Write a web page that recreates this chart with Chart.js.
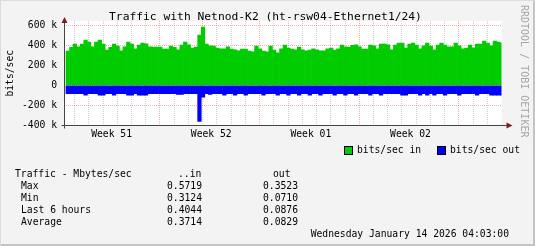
<!DOCTYPE html>
<html>
<head>
<meta charset="utf-8">
<script src="https://cdn.jsdelivr.net/npm/chart.js@4.4.1/dist/chart.umd.min.js"></script>
<style>
  body { margin: 0; background: #f3f3f3; }
  #wrap { position: relative; width: 535px; height: 246px; overflow: hidden;
          font-family: "DejaVu Sans Mono", monospace; font-size: 9.7px; color: #000; }
  #wrap canvas { position: absolute; left: 0; top: 0; }
  .t { position: absolute; white-space: pre; line-height: 12px; }
  .box { position: absolute; width: 7px; height: 7px; border: 1px solid #000; }
  .frame { position: absolute; left: 0; top: 0; right: 0; bottom: 0; pointer-events: none;
           box-shadow: inset 1px 1px 0 #dcdcdc, inset -2px -2px 0 #c4c4c4; }
  #mark { position: absolute; left: 519px; top: 5px; writing-mode: vertical-rl;
          font-size: 10px; line-height: 11px; color: #a6a6a6; white-space: pre; }
</style>
</head>
<body>
<div id="wrap">
  <canvas id="chart" width="535" height="246"></canvas>
  <div class="t" style="left:0;width:531px;text-align:center;top:10px;font-size:11.3px;line-height:14px">Traffic with Netnod-K2 (ht-rsw04-Ethernet1/24)</div>
  <div id="mark">RRDTOOL / TOBI OETIKER</div>
  <div class="box" style="left:344px;top:146px;background:#00cc00"></div>
  <div class="t" style="left:357px;top:144px">bits/sec in</div>
  <div class="box" style="left:437px;top:146px;background:#0000ff"></div>
  <div class="t" style="left:450px;top:144px">bits/sec out</div>
  <div id="stats"></div>
  <div class="t" style="right:26px;top:228px">Wednesday January 14 2026 04:03:00</div>
  <div class="frame"></div>
</div>
<script>
// week labels sit mid-week, day 0 = monday of week 51
const weekLabels = ["Week 51", "Week 52", "Week 01", "Week 02"];
const weekLabelDays = [3.6, 10.6, 17.6, 24.6];

// 6 hour bins, values in kbit/s
const firstBinDay = 0.40;
const binDays = 0.25;

const inK = [
  340, 377, 410, 383, 410, 450, 430, 383, 430, 450,
  410, 350, 377, 410, 390, 343, 383, 430, 410, 363,
  400, 420, 413, 383, 380, 380, 380, 360, 360, 390,
  377, 353, 400, 430, 403, 370, 380, 500, 580, 410,
  393, 390, 370, 363, 363, 383, 360, 353, 343, 360,
  360, 340, 333, 390, 363, 340, 333, 390, 350, 323,
  363, 400, 370, 360, 353, 380, 353, 343, 350, 363,
  353, 343, 343, 363, 370, 350, 363, 400, 383, 380,
  397, 403, 383, 360, 360, 400, 393, 363, 410, 410,
  403, 353, 400, 420, 420, 370, 410, 420, 400, 363,
  393, 420, 390, 353, 400, 420, 400, 383, 383, 420,
  393, 363, 370, 400, 373, 410, 410, 440, 420, 393,
  440, 430, 420
];

const outK = [
  -83, -83, -83, -83, -83, -97, -83, -83, -83, -97,
  -97, -83, -83, -97, -83, -83, -83, -97, -97, -83,
  -97, -97, -97, -83, -83, -83, -83, -83, -83, -83,
  -83, -90, -90, -83, -83, -83, -83, -360, -117, -83,
  -90, -83, -83, -83, -97, -83, -83, -97, -83, -83,
  -97, -83, -83, -83, -83, -97, -83, -83, -83, -97,
  -83, -83, -97, -83, -83, -97, -83, -83, -97, -83,
  -83, -97, -83, -83, -83, -97, -83, -83, -97, -83,
  -83, -97, -83, -83, -83, -97, -83, -83, -97, -83,
  -83, -83, -83, -83, -97, -97, -83, -83, -83, -97,
  -83, -97, -83, -97, -83, -83, -97, -83, -83, -83,
  -97, -83, -83, -83, -83, -97, -83, -83, -83, -97,
  -97, -97, -97
];

const statNames = ["Max", "Min", "Last 6 hours", "Average"];
const statIn = ["0.5719", "0.3124", "0.4044", "0.3714"];
const statOut = ["0.3523", "0.0710", "0.0876", "0.0829"];

const mono = "'DejaVu Sans Mono', monospace";

// stats block under the graph
const stats = document.getElementById("stats");
let html = '<div class="t" style="left:15px;top:168px">Traffic - Mbytes/sec</div>' +
  '<div class="t" style="left:178px;top:168px">..in</div>' +
  '<div class="t" style="left:273px;top:168px">out</div>';
statNames.forEach((name, i) => {
  const top = 180 + i * 12;
  html += `<div class="t" style="left:21px;top:${top}px">${name}</div>`;
  html += `<div class="t" style="left:167px;top:${top}px">${statIn[i]}</div>`;
  html += `<div class="t" style="left:263px;top:${top}px">${statOut[i]}</div>`;
});
stats.innerHTML = html;

const binX = i => firstBinDay + (i + 0.5) * binDays;

// ticks for the x axis: one gridline per day plus the week label positions
const xTicks = [];
for (let d = 1; d <= 30; d++) xTicks.push(d);
weekLabelDays.forEach(d => xTicks.push(d));
xTicks.sort((a, b) => a - b);

// white plot background
const plotBg = {
  id: "plotBg",
  beforeDraw(chart) {
    const a = chart.chartArea;
    chart.ctx.save();
    chart.ctx.fillStyle = "#ffffff";
    chart.ctx.fillRect(a.left, a.top, a.right - a.left, a.bottom - a.top);
    chart.ctx.restore();
  }
};

// rrdtool style axis extensions + arrows
const arrows = {
  id: "arrows",
  afterDraw(chart) {
    const a = chart.chartArea;
    const ctx = chart.ctx;
    const y0 = Math.round(a.bottom) - 0.5;
    const x0 = Math.round(a.left) + 0.5;
    ctx.save();
    ctx.strokeStyle = "#444444";
    ctx.lineWidth = 1;
    ctx.beginPath();
    ctx.moveTo(x0 - 3, y0); ctx.lineTo(a.right + 6, y0);
    ctx.moveTo(x0, y0 + 3); ctx.lineTo(x0, a.top - 2);
    ctx.stroke();
    ctx.fillStyle = "#7f1d1d";
    ctx.beginPath();
    ctx.moveTo(a.right + 5, y0 - 3); ctx.lineTo(a.right + 11, y0); ctx.lineTo(a.right + 5, y0 + 3);
    ctx.closePath(); ctx.fill();
    ctx.beginPath();
    ctx.moveTo(x0 - 3, a.top + 2); ctx.lineTo(x0, a.top - 4); ctx.lineTo(x0 + 3, a.top + 2);
    ctx.closePath(); ctx.fill();
    ctx.restore();
  }
};

const pink = "rgba(255, 0, 0, 0.33)";
const gray = "rgba(170, 170, 170, 0.55)";

new Chart(document.getElementById("chart"), {
  type: "bar",
  data: {
    datasets: [
      {
        label: "bits/sec in",
        data: inK.map((v, i) => ({ x: binX(i), y: v })),
        backgroundColor: "#00cc00",
        borderWidth: 0,
        grouped: false,
        barPercentage: 1,
        categoryPercentage: 1
      },
      {
        label: "bits/sec out",
        data: outK.map((v, i) => ({ x: binX(i), y: v })),
        backgroundColor: "#0000ff",
        borderWidth: 0,
        grouped: false,
        barPercentage: 1,
        categoryPercentage: 1
      }
    ]
  },
  options: {
    responsive: false,
    animation: false,
    devicePixelRatio: 1,
    layout: { padding: { left: 0, right: 33.5, top: 21, bottom: 100.5 } },
    plugins: {
      legend: { display: false },
      tooltip: { enabled: false },
      title: { display: false }
    },
    scales: {
      x: {
        type: "linear",
        min: 0.26,
        max: 30.99,
        offset: false,
        afterFit: s => { s.height = 20; },
        afterBuildTicks: s => { s.ticks = xTicks.map(v => ({ value: v })); },
        ticks: {
          autoSkip: false,
          maxRotation: 0,
          padding: 3,
          color: "#000",
          font: { family: mono, size: 9.7 },
          callback: v => {
            const k = weekLabelDays.indexOf(v);
            return k >= 0 ? weekLabels[k] : "";
          }
        },
        grid: {
          offset: false,
          drawTicks: false,
          lineWidth: 1,
          color: ctx => {
            if (!ctx.tick) return gray;
            const v = ctx.tick.value;
            if (weekLabelDays.includes(v)) return "rgba(0,0,0,0)";
            return v % 7 === 0 ? pink : gray;
          }
        },
        border: { display: false, dash: [1, 1] }
      },
      y: {
        min: -400,
        max: 640,
        afterFit: s => { s.width = 64; },
        ticks: {
          stepSize: 100,
          includeBounds: false,
          padding: 7,
          color: "#000",
          font: { family: mono, size: 9.7 },
          callback: v => {
            if (v % 200 !== 0) return "";
            return v === 0 ? "0" : v + " k";
          }
        },
        grid: {
          drawTicks: false,
          lineWidth: 1,
          color: ctx => (ctx.tick && ctx.tick.value % 200 === 0 ? pink : gray)
        },
        border: { display: false, dash: [1, 1] },
        title: {
          display: true,
          text: "bits/sec",
          color: "#000",
          padding: { top: 5, bottom: 0 },
          font: { family: mono, size: 9.7 }
        }
      }
    }
  },
  plugins: [plotBg, arrows]
});
</script>
</body>
</html>
